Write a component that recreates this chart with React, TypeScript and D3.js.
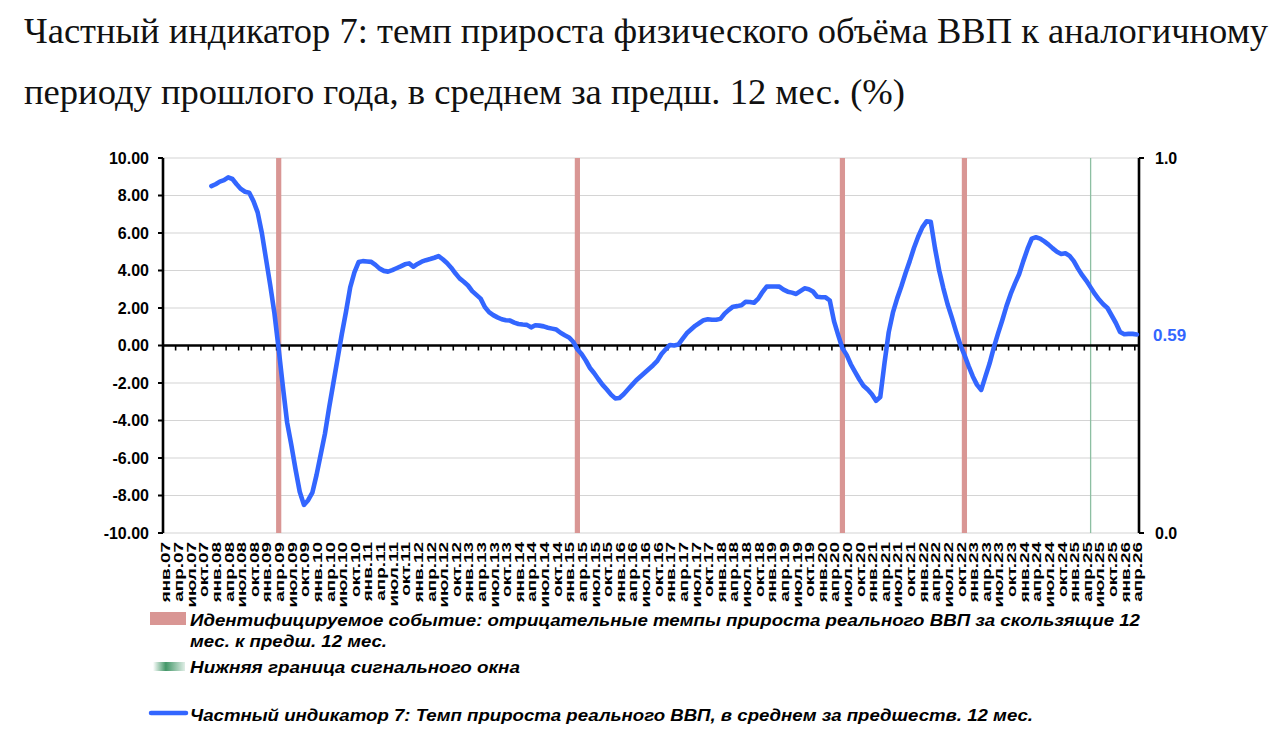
/**
 * Индикатор 7: темп прироста ВВП (среднее за 12 мес.), помесячно янв.07–апр.26.
 * Left axis: % (−10…10). Right axis: 0…1, used by the event columns.
 */
import React, { useRef, useEffect } from 'react';
import * as d3 from 'd3';

const WIDTH = 1280;
const HEIGHT = 746;
const LEFT = 163;
const RIGHT = 1139;
const TOP = 158;
const BOTTOM = 533;

const SANS = 'Liberation Sans, Arial, sans-serif';
const SERIF = 'Liberation Serif, Times New Roman, serif';
const BLUE = '#3366FF';

const MONTH_ABBR = ['янв.', 'фев.', 'мар.', 'апр.', 'май.', 'июн.', 'июл.', 'авг.', 'сен.', 'окт.', 'ноя.', 'дек.'];
const FIRST_YEAR = 2007;
const LAST_YEAR = 2026;
const LAST_MONTH = 'апр.26';
const LABEL_STEP = 3; // подписи раз в квартал

const SERIES_START = 'дек.07';
// Частный индикатор 7, % (с дек.07)
const indicator7 = [
  8.5,
  8.6, 8.74, 8.82, 8.97, 8.88, 8.6, 8.35, 8.2, 8.15, 7.7, 7.1, 6.0, // 2008
  4.6, 3.2, 1.7, -0.2, -2.2, -4.1, -5.3, -6.6, -7.8, -8.5, -8.25, -7.85, // 2009
  -6.9, -5.8, -4.7, -3.3, -2.0, -0.7, 0.6, 1.8, 3.1, 3.9, 4.45, 4.5, // 2010
  4.48, 4.46, 4.3, 4.1, 3.98, 3.94, 4.02, 4.12, 4.22, 4.33, 4.38, 4.2, // 2011
  4.35, 4.47, 4.55, 4.61, 4.68, 4.77, 4.6, 4.4, 4.15, 3.85, 3.58, 3.4, // 2012
  3.2, 2.9, 2.7, 2.5, 2.05, 1.78, 1.62, 1.5, 1.4, 1.35, 1.33, 1.22, // 2013
  1.15, 1.12, 1.1, 0.97, 1.08, 1.06, 1.02, 0.95, 0.9, 0.85, 0.68, 0.55, // 2014
  0.43, 0.2, -0.2, -0.45, -0.8, -1.2, -1.48, -1.8, -2.1, -2.35, -2.62, -2.82, // 2015
  -2.8, -2.6, -2.35, -2.1, -1.85, -1.65, -1.45, -1.25, -1.05, -0.82, -0.45, -0.2, // 2016
  0.03, 0.0, 0.05, 0.35, 0.65, 0.85, 1.05, 1.2, 1.35, 1.4, 1.37, 1.37, // 2017
  1.42, 1.7, 1.9, 2.07, 2.1, 2.15, 2.33, 2.32, 2.28, 2.5, 2.85, 3.14, // 2018
  3.15, 3.15, 3.14, 2.98, 2.87, 2.82, 2.75, 2.9, 3.05, 3.0, 2.88, 2.6, // 2019
  2.57, 2.57, 2.4, 1.3, 0.55, -0.15, -0.5, -1.0, -1.4, -1.8, -2.15, -2.35, // 2020
  -2.6, -2.95, -2.75, -0.95, 0.7, 1.75, 2.5, 3.15, 3.85, 4.5, 5.2, 5.8, // 2021
  6.3, 6.62, 6.6, 5.2, 4.0, 3.05, 2.2, 1.5, 0.75, 0.05, -0.5, -1.1, // 2022
  -1.65, -2.1, -2.37, -1.65, -0.95, -0.1, 0.65, 1.35, 2.1, 2.75, 3.3, 3.8, // 2023
  4.5, 5.15, 5.7, 5.77, 5.7, 5.55, 5.38, 5.18, 5.0, 4.88, 4.92, 4.78, // 2024
  4.5, 4.1, 3.75, 3.45, 3.1, 2.75, 2.45, 2.2, 2.0, 1.6, 1.2, 0.72, // 2025
  0.6, 0.62, 0.62, 0.59, // 2026
];

// Идентифицируемые события (столбцы по правой оси = 1)
const eventMonths = ['апр.09', 'мар.15', 'июн.20', 'ноя.22'];
// Нижняя граница сигнального окна
const signalWindowMonths = ['май.25'];

const leftTicks = [-10, -8, -6, -4, -2, 0, 2, 4, 6, 8, 10];
const rightTicks = [0, 1];

const titleLines = [
  'Частный индикатор 7: темп прироста физического объёма ВВП к аналогичному',
  'периоду прошлого года, в среднем за предш. 12 мес. (%)',
];
const legendEvent = [
  'Идентифицируемое событие: отрицательные темпы прироста реального ВВП за скользящие 12',
  'мес. к предш. 12 мес.',
];
const legendSignal = 'Нижняя граница сигнального окна';
const legendSeries = 'Частный индикатор 7: Темп прироста реального ВВП, в среднем за предшеств. 12 мес.';

const allMonths = d3
  .range(FIRST_YEAR, LAST_YEAR + 1)
  .flatMap((y) => MONTH_ABBR.map((m) => m + String(y % 100).padStart(2, '0')));
const categories = allMonths.slice(0, allMonths.indexOf(LAST_MONTH) + 1);

const App: React.FC = () => {
  const svgRef = useRef<SVGSVGElement>(null);

  useEffect(() => {
    document.body.style.margin = '0';
    if (!svgRef.current) return;
    const svg = d3.select(svgRef.current);
    svg.selectAll('*').remove();

    const x = d3.scaleBand<string>().domain(categories).range([LEFT, RIGHT]).padding(0);
    const bw = x.bandwidth();
    const cx = (c: string) => (x(c) ?? 0) + bw / 2;
    const y = d3.scaleLinear().domain([-10, 10]).range([BOTTOM, TOP]);
    const yR = d3.scaleLinear().domain([0, 1]).range([BOTTOM, TOP]);

    // title
    svg
      .append('g')
      .selectAll('text')
      .data(titleLines)
      .join('text')
      .attr('x', 24)
      .attr('y', (_, i) => 43 + i * 61)
      .attr('font-family', SERIF)
      .attr('font-size', 36)
      .attr('fill', '#111')
      .attr('textLength', (_, i) => (i === 0 ? 1244 : 881))
      .attr('lengthAdjust', 'spacingAndGlyphs')
      .text((d) => d);

    // gridlines
    svg
      .append('g')
      .selectAll('line')
      .data(leftTicks)
      .join('line')
      .attr('x1', LEFT)
      .attr('x2', RIGHT)
      .attr('y1', (d) => y(d))
      .attr('y2', (d) => y(d))
      .attr('stroke', '#d4d4d4')
      .attr('stroke-width', 1.2);

    // event columns
    svg
      .append('g')
      .selectAll('rect')
      .data(eventMonths)
      .join('rect')
      .attr('x', (d) => cx(d) - 2.6)
      .attr('width', 5.2)
      .attr('y', yR(1))
      .attr('height', yR(0) - yR(1))
      .attr('fill', '#D99694');

    svg
      .append('g')
      .selectAll('line')
      .data(signalWindowMonths)
      .join('line')
      .attr('x1', (d) => cx(d))
      .attr('x2', (d) => cx(d))
      .attr('y1', yR(1))
      .attr('y2', yR(0))
      .attr('stroke', '#8dbfa2')
      .attr('stroke-width', 1.3);

    // left axis
    svg
      .append('line')
      .attr('x1', LEFT)
      .attr('x2', LEFT)
      .attr('y1', TOP)
      .attr('y2', BOTTOM)
      .attr('stroke', '#000')
      .attr('stroke-width', 2.6);
    const lt = svg.append('g').selectAll('g').data(leftTicks).join('g');
    lt.append('line')
      .attr('x1', LEFT - 5)
      .attr('x2', LEFT)
      .attr('y1', (d) => y(d))
      .attr('y2', (d) => y(d))
      .attr('stroke', '#000')
      .attr('stroke-width', 2);
    lt.append('text')
      .attr('x', LEFT - 14)
      .attr('y', (d) => y(d))
      .attr('dy', '0.36em')
      .attr('text-anchor', 'end')
      .attr('font-family', SANS)
      .attr('font-weight', 'bold')
      .attr('font-size', 16)
      .attr('fill', '#000')
      .text((d) => d.toFixed(2));

    // right axis
    svg
      .append('line')
      .attr('x1', RIGHT)
      .attr('x2', RIGHT)
      .attr('y1', TOP)
      .attr('y2', BOTTOM)
      .attr('stroke', '#000')
      .attr('stroke-width', 2.6);
    const rt = svg.append('g').selectAll('g').data(rightTicks).join('g');
    rt.append('line')
      .attr('x1', RIGHT)
      .attr('x2', RIGHT + 5)
      .attr('y1', (d) => yR(d))
      .attr('y2', (d) => yR(d))
      .attr('stroke', '#000')
      .attr('stroke-width', 2);
    rt.append('text')
      .attr('x', RIGHT + 16)
      .attr('y', (d) => yR(d))
      .attr('dy', '0.36em')
      .attr('font-family', SANS)
      .attr('font-weight', 'bold')
      .attr('font-size', 16)
      .attr('fill', '#000')
      .text((d) => d.toFixed(1));

    // category axis at zero, ticks every quarter
    const y0 = y(0);
    const quarterCats = categories.filter((_, i) => i % LABEL_STEP === 0);
    svg
      .append('g')
      .selectAll('line')
      .data(quarterCats)
      .join('line')
      .attr('x1', (d) => x(d) ?? 0)
      .attr('x2', (d) => x(d) ?? 0)
      .attr('y1', y0)
      .attr('y2', y0 + 5)
      .attr('stroke', '#000')
      .attr('stroke-width', 1.6);
    svg
      .append('line')
      .attr('x1', LEFT)
      .attr('x2', RIGHT)
      .attr('y1', y0)
      .attr('y2', y0)
      .attr('stroke', '#000')
      .attr('stroke-width', 2.6);

    // category labels (stretched along their direction, like the source)
    svg
      .append('g')
      .selectAll('text')
      .data(quarterCats)
      .join('text')
      .attr('transform', (d) => `translate(${cx(d) + 1}, ${BOTTOM + 9}) rotate(-90) scale(1.55, 1)`)
      .attr('dy', '0.36em')
      .attr('text-anchor', 'end')
      .attr('font-family', SANS)
      .attr('font-weight', 'bold')
      .attr('font-size', 12.2)
      .attr('fill', '#000')
      .text((d) => d);

    // series line
    const start = categories.indexOf(SERIES_START);
    const points = indicator7.map((v, i) => ({ c: categories[start + i], v }));
    const line = d3
      .line<{ c: string; v: number }>()
      .x((d) => cx(d.c))
      .y((d) => y(d.v));
    svg
      .append('path')
      .attr('d', line(points) ?? '')
      .attr('fill', 'none')
      .attr('stroke', BLUE)
      .attr('stroke-width', 4.6)
      .attr('stroke-linejoin', 'round')
      .attr('stroke-linecap', 'round');

    const last = points[points.length - 1];
    svg
      .append('text')
      .attr('x', RIGHT + 14)
      .attr('y', y(last.v))
      .attr('dy', '0.36em')
      .attr('font-family', SANS)
      .attr('font-weight', 'bold')
      .attr('font-size', 17)
      .attr('fill', BLUE)
      .text(last.v.toFixed(2));

    // legend
    const lg = svg.append('g').attr('font-family', SANS).attr('font-weight', 'bold').attr('font-style', 'italic').attr('font-size', 17).attr('fill', '#000');
    lg.append('rect').attr('x', 150).attr('y', 612).attr('width', 36).attr('height', 13).attr('fill', '#D99694');
    lg.selectAll('text.ev')
      .data(legendEvent)
      .join('text')
      .attr('class', 'ev')
      .attr('x', 190)
      .attr('y', (_, i) => 626 + i * 21)
      .attr('textLength', (_, i) => (i === 0 ? 950 : 197))
      .attr('lengthAdjust', 'spacingAndGlyphs')
      .text((d) => d);

    const defs = svg.append('defs');
    const grad = defs.append('linearGradient').attr('id', 'sigGrad');
    grad.append('stop').attr('offset', '0%').attr('stop-color', '#2e8b57').attr('stop-opacity', 0);
    grad.append('stop').attr('offset', '40%').attr('stop-color', '#2e8b57').attr('stop-opacity', 0.9);
    grad.append('stop').attr('offset', '100%').attr('stop-color', '#2e8b57').attr('stop-opacity', 0.15);
    lg.append('rect').attr('x', 153).attr('y', 662).attr('width', 32).attr('height', 9).attr('fill', 'url(#sigGrad)');
    lg.append('text').attr('x', 190).attr('y', 673).attr('textLength', 330).attr('lengthAdjust', 'spacingAndGlyphs').text(legendSignal);

    lg.append('line')
      .attr('x1', 151)
      .attr('x2', 186)
      .attr('y1', 713)
      .attr('y2', 713)
      .attr('stroke', BLUE)
      .attr('stroke-width', 4.5)
      .attr('stroke-linecap', 'round');
    lg.append('text').attr('x', 190).attr('y', 721).attr('textLength', 843).attr('lengthAdjust', 'spacingAndGlyphs').text(legendSeries);
  }, []);

  return <svg ref={svgRef} width={WIDTH} height={HEIGHT} viewBox={`0 0 ${WIDTH} ${HEIGHT}`} style={{ display: 'block', background: '#fff' }} />;
};

export default App;
